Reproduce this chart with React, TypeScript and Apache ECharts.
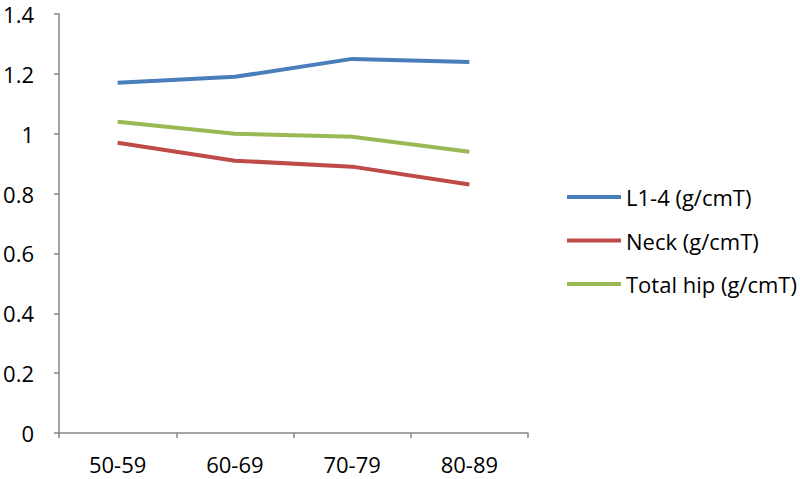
import React, { useEffect, useRef } from "react";
import * as echarts from "echarts";

const categories = ["50-59", "60-69", "70-79", "80-89"];
const l14 = [1.17, 1.19, 1.25, 1.24];
const neck = [0.97, 0.91, 0.89, 0.83];
const totalHip = [1.04, 1.0, 0.99, 0.94];
const seriesNames = ["L1-4 (g/cmT)", "Neck (g/cmT)", "Total hip (g/cmT)"];
const colors = ["#4A7EBB", "#BE4B48", "#98B954"];

const FONT = "'Open Sans', Lato, sans-serif";

export default function App() {
  const ref = useRef<HTMLDivElement>(null);
  useEffect(() => {
    if (!ref.current) return;
    const chart = echarts.init(ref.current, null, { renderer: "svg" });
    const mk = (name: string, data: number[], color: string) => ({
      name,
      type: "line",
      data,
      symbol: "none",
      lineStyle: { color, width: 4 },
      itemStyle: { color },
    });
    chart.setOption({
      animation: false,
      backgroundColor: "#ffffff",
      grid: { left: 59, right: 272, top: 14, bottom: 46 },
      legend: {
        orient: "vertical",
        left: 562,
        top: 179,
        icon: "rect",
        itemWidth: 54,
        itemHeight: 4,
        itemGap: 17.5,
        data: seriesNames,
        textStyle: { fontFamily: FONT, fontSize: 22, color: "#000", lineHeight: 26 },
      },
      xAxis: {
        type: "category",
        data: categories,
        boundaryGap: true,
        axisLine: { lineStyle: { color: "#868686", width: 1.5 } },
        axisTick: { show: true, length: 5, lineStyle: { color: "#868686", width: 1.5 } },
        axisLabel: { color: "#000", fontSize: 22, fontFamily: FONT, margin: 20 },
        splitLine: { show: false },
      },
      yAxis: {
        type: "value",
        min: 0,
        max: 1.4,
        interval: 0.2,
        axisLine: { show: true, lineStyle: { color: "#868686", width: 1.5 } },
        axisTick: { show: true, length: 5, lineStyle: { color: "#868686", width: 1.5 } },
        axisLabel: {
          color: "#000",
          fontSize: 22,
          lineHeight: 22,
          fontFamily: FONT,
          margin: 25,
          formatter: (v: number) => String(Math.round(v * 10) / 10),
        },
        splitLine: { show: false },
      },
      series: [
        mk(seriesNames[0], l14, colors[0]),
        mk(seriesNames[1], neck, colors[1]),
        mk(seriesNames[2], totalHip, colors[2]),
      ],
    });
    return () => chart.dispose();
  }, []);
  return <div ref={ref} style={{ width: 800, height: 479, position: "absolute", left: 0, top: 0 }} />;
}
